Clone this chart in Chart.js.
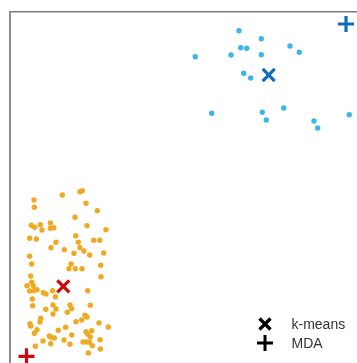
<!DOCTYPE html>
<html>
<head>
<meta charset="utf-8">
<script src="https://cdn.jsdelivr.net/npm/chart.js@4"></script>
<style>
html,body{margin:0;padding:0;background:#fff;}
canvas{display:block;}
</style>
</head>
<body>
<canvas id="c" width="357" height="363"></canvas>
<script>
// Cluster A (orange) x / y values
const orangeX = [52.3,70,72.3,24,24.3,76,87.3,65,21.3,24.7,30.3,32,40.3,40.3,43.7,77,96,19.7,26.3,65.7,83.7,89.7,46,68.3,41,54.3,64,70,74,19.7,79.7,93.7,21.7,61,59,65.3,72,90.7,20.7,91,21.7,23.3,17,27,23.7,19.7,33.3,36,42.7,45.3,77.7,22.3,22.7,35.7,43,46,43,60,61.7,57.3,80.3,30.7,30,20,20.7,66,71.7,75,77,89,98.3,27,24.3,48.3,55.7,39.3,41.3,44.3,61.7,76,77.7,81.7,33,40.7,54,60,73,76.3,79.3,80.3,90,25.3,82.3,90.3,78.3];
const orangeY = [168,171.3,172.3,163,155.7,159.7,152.3,145.7,137.7,135.7,138.3,133,140,134.7,135.3,137.3,133.3,124.7,124,127.3,122.7,122.7,120.7,120.7,115.3,113.3,109.7,115.3,112,106.7,108,110,99,99,94.3,94.3,94.3,97.7,87,86.3,80.7,77.3,77.3,73.3,72.3,72,70.3,69,72.3,66.3,72.3,64,57.3,53.7,58,54,49,58,54.3,50.7,57.7,44.7,41,39.3,37,41.3,43,47.7,46,40,36,33.3,29.7,32.7,35.7,27,25.7,25,28,31.3,28.7,32.3,22,19.3,23,18.7,21,21,20.7,26,23.3,16.7,17.3,14,10];
// Cluster B (blue) x / y values
const blueX = [185.3,229,251.3,230.7,236.7,221,251.3,280,289.3,233.7,240.7,201.7,252.3,256.3,273.7,304,307.7,339.3];
const blueY = [306.3,332.3,324.3,315.3,314.7,308,308.3,317,310.7,289.7,285,249.7,250.7,243,255,242,235,248.3];
// Centres: [orange cluster, blue cluster]
const kmeansX = [53.3, 258.7];
const kmeansY = [76.7, 288];
const mdaX = [16.5, 336];
const mdaY = [6.7, 339];
const legendLabels = ['k-means', 'MDA'];

const ORANGE = '#efa923', BLUE = '#3cb5ea', DBLUE = '#0b6fbd', RED = '#cc0a0a';
const pts = (xs, ys) => xs.map((x, i) => ({x, y: ys[i]}));

const legendPlugin = {
  id: 'cornerLegend',
  afterDraw(chart) {
    const ctx = chart.ctx, a = chart.chartArea;
    const mx = a.right - 92, tx = a.right - 65.5;
    const rows = [a.bottom - 39, a.bottom - 20];
    ctx.save();
    ctx.strokeStyle = '#000';
    ctx.lineWidth = 3.3;
    ctx.lineCap = 'butt';
    // X marker
    let y = rows[0], h = 5.5;
    ctx.beginPath();
    ctx.moveTo(mx - h, y - h); ctx.lineTo(mx + h, y + h);
    ctx.moveTo(mx - h, y + h); ctx.lineTo(mx + h, y - h);
    ctx.stroke();
    // + marker
    y = rows[1]; h = 8;
    ctx.lineWidth = 3;
    ctx.beginPath();
    ctx.moveTo(mx - h, y); ctx.lineTo(mx + h, y);
    ctx.moveTo(mx, y - h); ctx.lineTo(mx, y + h);
    ctx.stroke();
    ctx.fillStyle = '#333';
    ctx.font = '14px "Liberation Sans", Arial, sans-serif';
    ctx.textBaseline = 'middle';
    ctx.textAlign = 'left';
    ctx.fillText(legendLabels[0], tx, rows[0] + 1);
    ctx.fillText(legendLabels[1], tx, rows[1] + 1);
    ctx.restore();
  }
};

new Chart(document.getElementById('c'), {
  type: 'scatter',
  data: {
    datasets: [
      { label: 'A', data: pts(orangeX, orangeY), backgroundColor: ORANGE, borderColor: ORANGE,
        pointRadius: 2.7, borderWidth: 0, clip: false },
      { label: 'B', data: pts(blueX, blueY), backgroundColor: BLUE, borderColor: BLUE,
        pointRadius: 2.7, borderWidth: 0, clip: false },
      { label: legendLabels[0], data: pts(kmeansX, kmeansY), pointStyle: 'crossRot',
        borderColor: [RED, DBLUE], backgroundColor: [RED, DBLUE], pointRadius: 8.5, borderWidth: 3.2, clip: false },
      { label: legendLabels[1], data: pts(mdaX, mdaY), pointStyle: 'cross',
        borderColor: [RED, DBLUE], backgroundColor: [RED, DBLUE], pointRadius: 8, borderWidth: 3.2, clip: false }
    ]
  },
  options: {
    responsive: false,
    animation: false,
    events: [],
    layout: { autoPadding: false, padding: { left: 10, top: 12, right: 0, bottom: 0 } },
    plugins: { legend: { display: false }, tooltip: { enabled: false } },
    scales: {
      x: { type: 'linear', position: 'top', min: 0, max: 347,
           ticks: { display: false }, grid: { display: false, drawTicks: false },
           border: { display: true, color: '#7a7a7a', width: 1.5 } },
      y: { type: 'linear', position: 'left', min: 0, max: 351,
           ticks: { display: false }, grid: { display: false, drawTicks: false },
           border: { display: true, color: '#8a8a8a', width: 2 } }
    }
  },
  plugins: [legendPlugin]
});
</script>
</body>
</html>
